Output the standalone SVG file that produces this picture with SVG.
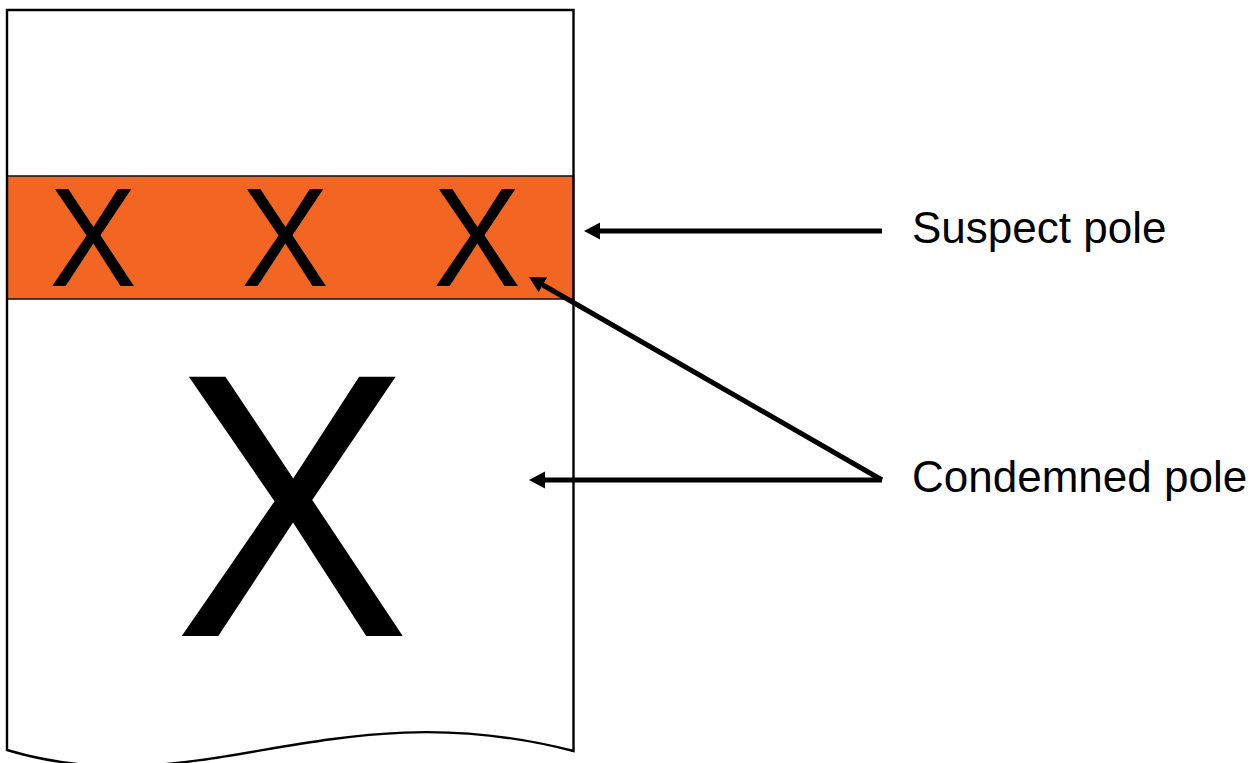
<svg xmlns="http://www.w3.org/2000/svg" width="1257" height="763" viewBox="0 0 1257 763">
  <style>
    .outline { fill: none; stroke: #000; stroke-width: 2.4; stroke-linejoin: miter; }
    .band { fill: #F26522; stroke: #1a1a1a; stroke-width: 1.6; }
    .mark { font-family: "Liberation Sans", Arial, sans-serif; fill: #000; text-anchor: middle; }
    .label { font-family: "Liberation Sans", Arial, sans-serif; font-size: 44px; fill: #000; }
    .conn { stroke: #000; stroke-width: 5; fill: none; }
  </style>
  <defs>
    <marker id="head" markerUnits="userSpaceOnUse" markerWidth="18" markerHeight="20" viewBox="0 -10 18 20" refX="6" refY="0" orient="auto">
      <path d="M0,-8.5 L16,0 L0,8.5 z" fill="#000"/>
    </marker>
  </defs>

  <rect width="1257" height="763" fill="#fff"/>

  <!-- pole document shape with wavy cut at the bottom -->
  <g id="pole">
    <path d="M7,750 L7,10 L573.5,10 L573.5,751 C330,688 200,808 7,750 Z" fill="#fff" stroke="none"/>
    <rect id="suspect-band" class="band" x="7" y="176" width="566.5" height="123"/>
    <g id="suspect-marks">
      <text class="mark" font-size="141" transform="translate(93,286) scale(0.93,1)" x="0" y="0">X</text>
      <text class="mark" font-size="141" transform="translate(285,286) scale(0.93,1)" x="0" y="0">X</text>
      <text class="mark" font-size="141" transform="translate(477,286) scale(0.93,1)" x="0" y="0">X</text>
    </g>
    <text id="condemned-mark" class="mark" font-size="377" transform="translate(292,636) scale(0.94,1)" x="0" y="0">X</text>
    <path class="outline" d="M7,750 L7,10 L573.5,10 L573.5,751 C330,688 200,808 7,750 Z"/>
  </g>

  <g id="connectors">
    <line class="conn" x1="882" y1="231" x2="594" y2="231" marker-end="url(#head)"/>
    <line class="conn" x1="882" y1="480" x2="539" y2="480" marker-end="url(#head)"/>
    <line class="conn" x1="882" y1="480" x2="537.7" y2="282" marker-end="url(#head)"/>
  </g>

  <g id="label-suspect">
    <text class="label" x="912" y="243">Suspect pole</text>
  </g>
  <g id="label-condemned">
    <text class="label" x="912" y="492">Condemned pole</text>
  </g>
</svg>
